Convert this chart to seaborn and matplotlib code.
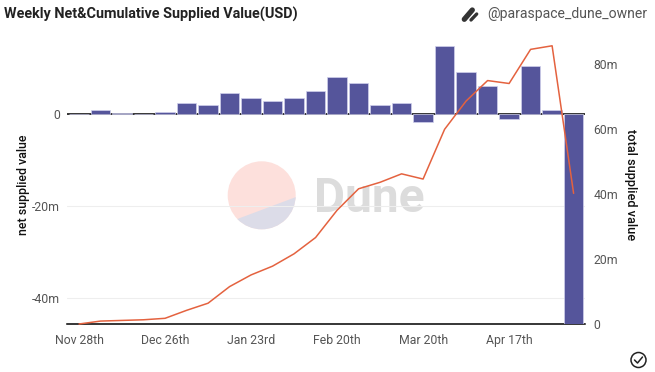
import matplotlib
matplotlib.use('Agg')
import matplotlib.pyplot as plt
import seaborn as sns
import pandas as pd
from matplotlib.patches import Circle, Polygon

weeks = ['Nov 28th', 'Dec 5th', 'Dec 12th', 'Dec 19th', 'Dec 26th', 'Jan 2nd', 'Jan 9th', 'Jan 16th',
         'Jan 23rd', 'Jan 30th', 'Feb 6th', 'Feb 13th', 'Feb 20th', 'Feb 27th', 'Mar 6th', 'Mar 13th',
         'Mar 20th', 'Mar 27th', 'Apr 3rd', 'Apr 10th', 'Apr 17th', 'Apr 24th', 'May 1st', 'May 8th']
net_supplied = [0, 0.94, 0.2, 0.1, 0.45, 2.4, 2.1, 4.64, 3.6, 2.9, 3.6, 5.1,
                8.0, 6.7, 1.96, 2.5, -1.74, 14.85, 9.13, 6.1, -0.94, 10.5, 0.94, -46]
total_supplied = [0, 0.9, 1.1, 1.3, 1.75, 4.2, 6.4, 11.5, 15.1, 17.8, 21.6, 26.6,
                  35, 41.6, 43.6, 46.2, 44.6, 59.9, 68.6, 74.9, 74, 84.5, 85.6, 40.2]
x_ticks = ['Nov 28th', 'Dec 26th', 'Jan 23rd', 'Feb 20th', 'Mar 20th', 'Apr 17th']
left_ticks = [0, -20, -40]
left_labels = ['0', '-20m', '-40m']
right_ticks = [0, 20, 40, 60, 80]
right_labels = ['0', '20m', '40m', '60m', '80m']

W, H = 655, 372
sns.set_theme(style='white')
plt.rcParams['font.family'] = ['Roboto', 'DejaVu Sans']

df = pd.DataFrame({'week': weeks, 'net': net_supplied, 'total': total_supplied})

fig = plt.figure(figsize=(W / 100, H / 100), dpi=100)

# pixel-coordinate layer behind the chart, for watermark and icons
bg = fig.add_axes([0, 0, 1, 1], zorder=0)
bg.set_xlim(0, W)
bg.set_ylim(H, 0)
bg.axis('off')

disc = Circle((261.7, 195.3), 34, fc='#fde0dc', ec='none')
bg.add_patch(disc)
lower = Polygon([(200, 233), (320, 188), (320, 250), (200, 250)], fc='#dcdce8', ec='none')
bg.add_patch(lower)
lower.set_clip_path(disc)
bg.text(314, 212, 'Dune', fontsize=34.5, fontweight='bold', color='#dcdcdc', ha='left', va='baseline')

bg.plot([464.3, 472.3], [19.3, 10], color='#333333', lw=3.8, solid_capstyle='round')
bg.plot([471, 476.7], [20, 14], color='#333333', lw=2.4, solid_capstyle='round')
bg.add_patch(Circle((638.5, 360), 7.5, fc='none', ec='#222222', lw=1.1))
bg.plot([634.5, 637.5, 642.5], [360, 363, 357], color='#222222', lw=1.1)

bg.text(4, 14, 'Weekly Net&Cumulative Supplied Value(USD)', fontsize=10.4, fontweight='bold',
        color='#222222', ha='left', va='center')
bg.text(487.5, 14, '@paraspace_dune_owner', fontsize=10.1, color='#555555', ha='left', va='center')

# main chart
ax = fig.add_axes([67 / W, 1 - 324 / H, 518 / W, 278.7 / H], zorder=1)
ax.patch.set_visible(False)
sns.barplot(data=df, x='week', y='net', color='#55559b', saturation=1, width=0.9,
            edgecolor='#d0d0ec', linewidth=0.5, ax=ax, zorder=3)
ax.axhline(0, color='black', lw=1.1, zorder=2)
ax.set_xlim(-0.56, 23.53)
ax.set_ylim(-45.65, 15)
ax.set_yticks(left_ticks, left_labels)
ax.set_xticks([weeks.index(t) for t in x_ticks], x_ticks)
ax.grid(axis='y', color='#eeeeee', lw=0.8, zorder=1)
ax.set_axisbelow(True)
ax.tick_params(axis='both', length=0, labelsize=8.8, labelcolor='#555555')
ax.tick_params(axis='x', pad=7)
ax.tick_params(axis='y', pad=5)
ax.set_xlabel('')
ax.set_ylabel('net supplied value', fontsize=8.9, fontweight='medium', color='#111111')
ax.yaxis.set_label_coords((30 - 67) / 518, 1 - (185 - 45.3) / 278.7)
sns.despine(ax=ax, left=True, right=True, top=True)
ax.spines['bottom'].set_color('black')
ax.spines['bottom'].set_linewidth(1.1)

ax2 = ax.twinx()
ax2.patch.set_visible(False)
sns.lineplot(data=df, x='week', y='total', color='#e4623f', lw=1.1, ax=ax2, clip_on=False, zorder=5)
ax2.set_ylim(0, 85.75)
ax2.set_yticks(right_ticks, right_labels)
ax2.grid(False)
ax2.tick_params(axis='y', length=0, labelsize=8.8, labelcolor='#555555', pad=6)
ax2.set_ylabel('total supplied value', fontsize=9.2, fontweight='medium', color='#111111', rotation=270, va='center')
ax2.yaxis.set_label_coords((631 - 67) / 518, 1 - (185 - 45.3) / 278.7)
for side in ['left', 'right', 'top', 'bottom']:
    ax2.spines[side].set_visible(False)

fig.savefig('out.png', dpi=100)
